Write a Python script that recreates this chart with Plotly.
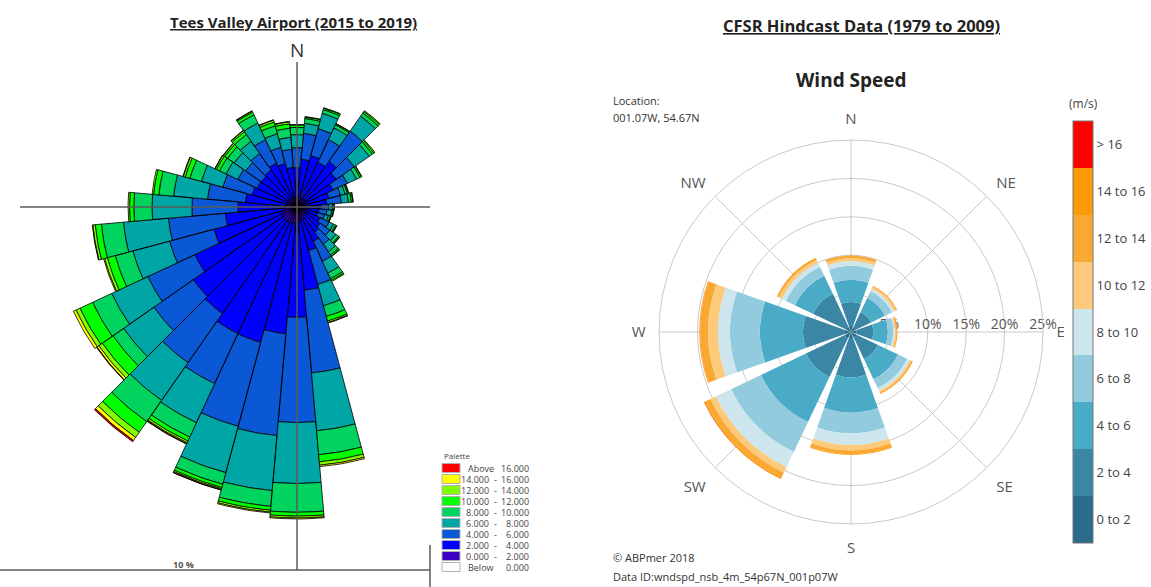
import numpy as np
import plotly.graph_objects as go

W, H = 1151, 587
FONT = "Open Sans"

# ---------------- Tees Valley Airport (2015 to 2019) ----------------
# 10-degree direction sectors; frequency (%) of each wind-speed class (m/s)
tv_dirs = list(range(0, 360, 10))
tv_0_2 = [0.22, 0.21, 0.23, 0.20, 0.22, 0.21, 0.20, 0.19, 0.20, 0.18, 0.19, 0.18,
          0.20, 0.21, 0.22, 0.25, 0.27, 0.30, 0.32, 0.34, 0.36, 0.35, 0.36, 0.33,
          0.31, 0.29, 0.27, 0.25, 0.23, 0.22, 0.21, 0.20, 0.21, 0.22, 0.21, 0.20]
tv_2_4 = [0.60, 0.79, 0.88, 0.83, 0.94, 0.79, 0.63, 0.50, 0.42, 0.31, 0.27, 0.27,
          0.33, 0.38, 0.42, 0.54, 0.67, 1.44, 1.98, 2.31, 2.56, 2.56, 2.35, 2.31,
          2.04, 1.50, 1.23, 0.98, 0.85, 0.75, 0.71, 0.71, 0.73, 0.79, 0.73, 0.63]
tv_4_6 = [0.42, 0.54, 0.58, 0.52, 0.77, 0.46, 0.33, 0.25, 0.31, 0.17, 0.17, 0.15,
          0.21, 0.25, 0.31, 0.46, 0.73, 1.73, 2.19, 2.13, 1.81, 1.15, 1.25, 1.00,
          1.08, 0.96, 1.19, 0.96, 0.79, 0.63, 0.44, 0.40, 0.42, 0.54, 0.35, 0.38]
tv_6_8 = [0.27, 0.21, 0.33, 0.27, 0.38, 0.38, 0.21, 0.10, 0.15, 0.08, 0.10, 0.08,
          0.10, 0.15, 0.19, 0.27, 0.46, 1.21, 1.27, 1.15, 1.00, 0.90, 0.96, 0.77,
          0.83, 0.79, 0.94, 0.83, 0.71, 0.46, 0.27, 0.29, 0.31, 0.38, 0.29, 0.25]
tv_8_10 = [0.15, 0.10, 0.08, 0.07, 0.08, 0.08, 0.08, 0.05, 0.06, 0.03, 0.03, 0.04,
           0.05, 0.07, 0.08, 0.13, 0.23, 0.50, 0.60, 0.33, 0.25, 0.33, 0.54, 0.27,
           0.44, 0.38, 0.46, 0.38, 0.31, 0.25, 0.15, 0.17, 0.17, 0.19, 0.17, 0.19]
tv_10_12 = [0.05, 0.03, 0.03, 0.02, 0.04, 0.04, 0.03, 0.02, 0.03, 0.01, 0.01, 0.01,
            0.02, 0.02, 0.03, 0.04, 0.10, 0.15, 0.08, 0.08, 0.07, 0.09, 0.27, 0.27,
            0.29, 0.17, 0.13, 0.09, 0.11, 0.10, 0.07, 0.07, 0.07, 0.06, 0.08, 0.09]
tv_12_14 = [0.01, 0.01, 0.01, 0.01, 0.02, 0.02, 0.01, 0.01, 0.01, 0.00, 0.00, 0.01,
            0.01, 0.01, 0.01, 0.02, 0.03, 0.07, 0.04, 0.04, 0.03, 0.04, 0.13, 0.09,
            0.09, 0.06, 0.05, 0.03, 0.03, 0.04, 0.03, 0.03, 0.03, 0.02, 0.04, 0.04]
tv_14_16 = [0.00, 0.00, 0.00, 0.00, 0.00, 0.00, 0.00, 0.00, 0.00, 0.00, 0.00, 0.00,
            0.00, 0.00, 0.00, 0.00, 0.01, 0.03, 0.02, 0.02, 0.02, 0.02, 0.08, 0.05,
            0.06, 0.02, 0.01, 0.00, 0.00, 0.01, 0.01, 0.01, 0.01, 0.01, 0.01, 0.01]
tv_above_16 = [0.0] * 20 + [0.005, 0.01, 0.03, 0.01] + [0.0] * 12

tv_classes = [tv_0_2, tv_2_4, tv_4_6, tv_6_8, tv_8_10, tv_10_12, tv_12_14, tv_14_16, tv_above_16]
tv_colors = ["#3c00c4", "#0000ff", "#0a58d6", "#00a6a6", "#00d35e",
             "#00ff00", "#80ff00", "#ffff00", "#ff0000"]
tv_palette = [("Above", "16.000", "#ff0000"), ("14.000", "16.000", "#ffff00"),
              ("12.000", "14.000", "#80ff00"), ("10.000", "12.000", "#00ff00"),
              ("8.000", "10.000", "#00d35e"), ("6.000", "8.000", "#00a6a6"),
              ("4.000", "6.000", "#0a58d6"), ("2.000", "4.000", "#0000ff"),
              ("0.000", "2.000", "#3c00c4"), ("Below", "0.000", "#ffffff")]
tv_scale_label = "10 %"

# ---------------- CFSR Hindcast Data (1979 to 2009) ----------------
cf_dirs = [0, 45, 90, 135, 180, 225, 270, 315]
cf_dir_labels = ["N", "NE", "E", "SE", "S", "SW", "W", "NW"]
cf_0_2 = [0.8, 0.7, 0.7, 0.8, 0.9, 0.9, 0.9, 0.8]
cf_2_4 = [3.1, 2.2, 2.2, 3.1, 5.0, 5.6, 5.35, 4.7]
cf_4_6 = [2.9, 2.0, 1.9, 2.9, 4.6, 6.5, 5.6, 2.6]
cf_6_8 = [1.8, 1.0, 0.7, 1.3, 2.7, 4.3, 3.9, 1.3]
cf_8_10 = [0.6, 0.35, 0.2, 0.4, 1.5, 2.2, 1.55, 0.6]
cf_10_12 = [0.4, 0.25, 0.2, 0.2, 0.7, 0.8, 1.3, 0.4]
cf_12_14 = [0.3, 0.15, 0.15, 0.2, 0.5, 0.7, 1.05, 0.3]
cf_14_16 = [0.05, 0.02, 0.02, 0.03, 0.1, 0.2, 0.1, 0.02]
cf_above_16 = [0.0, 0.0, 0.0, 0.0, 0.0, 0.02, 0.01, 0.0]

cf_classes = [cf_0_2, cf_2_4, cf_4_6, cf_6_8, cf_8_10, cf_10_12, cf_12_14, cf_14_16, cf_above_16]
cf_class_labels = ["0 to 2", "2 to 4", "4 to 6", "6 to 8", "8 to 10",
                   "10 to 12", "12 to 14", "14 to 16", "> 16"]
cf_colors = ["#2b6b8c", "#3a87a5", "#4aabc7", "#93cbde", "#cde6ee",
             "#fdca7b", "#f9a832", "#fb9c06", "#fe0000"]
cf_rings = [5, 10, 15, 20, 25]

fig = go.Figure()

# ---- left rose: stacked 10-degree wedges on an equal-scale cartesian frame
PX_PER_PCT = 48.0
CX, CY = 297, 207          # rose centre (px)
LEFT_W = 440               # width of the left panel (px)
x_rng = [-CX / PX_PER_PCT, (LEFT_W - CX) / PX_PER_PCT]
y_rng = [-(H - CY) / PX_PER_PCT, CY / PX_PER_PCT]

cum = np.zeros(len(tv_dirs))
for vals, col in zip(tv_classes, tv_colors):
    v = np.asarray(vals, dtype=float)
    r0, r1 = cum.copy(), cum + v
    cum = r1
    xs, ys = [], []
    for d, a0, a1 in zip(tv_dirs, r0, r1):
        if a1 - a0 <= 0:
            continue
        ang = np.radians(np.linspace(d - 5, d + 5, 12))
        px = np.concatenate([a1 * np.sin(ang), a0 * np.sin(ang[::-1]), [a1 * np.sin(ang[0])]])
        py = np.concatenate([a1 * np.cos(ang), a0 * np.cos(ang[::-1]), [a1 * np.cos(ang[0])]])
        xs += list(px) + [None]
        ys += list(py) + [None]
    fig.add_trace(go.Scatter(x=xs, y=ys, mode="lines", fill="toself", fillcolor=col,
                             line=dict(color="#000000", width=0.8), hoverinfo="skip",
                             showlegend=False, xaxis="x", yaxis="y"))

# ---- right rose: stacked bar-polar, colour bar keyed to speed class
for k, (vals, lab) in enumerate(zip(cf_classes, cf_class_labels)):
    fig.add_trace(go.Barpolar(
        r=vals, theta=cf_dirs, width=[39] * len(cf_dirs), name=lab,
        marker=dict(color=[k + 0.5] * len(cf_dirs), coloraxis="coloraxis",
                    line=dict(width=0)),
        hoverinfo="skip", showlegend=False, subplot="polar"))

nc = len(cf_colors)
cscale = []
for k, c in enumerate(cf_colors):
    cscale += [[k / nc, c], [(k + 1) / nc, c]]

# polar placement: centre (851, 332), 25 % ring at 192 px
PCX, PCY, PR = 851, 332, 192
polar_dom_x = [(PCX - PR) / W, (PCX + PR) / W]
polar_dom_y = [1 - (PCY + PR) / H, 1 - (PCY - PR) / H]

grid = "#c9c9c9"
fig.update_layout(
    width=W, height=H, margin=dict(l=0, r=0, t=0, b=0),
    paper_bgcolor="white", plot_bgcolor="white", showlegend=False,
    font=dict(family=FONT, color="#444"),
    xaxis=dict(domain=[0, LEFT_W / W], range=x_rng, visible=False, fixedrange=True),
    yaxis=dict(domain=[0, 1], range=y_rng, visible=False, fixedrange=True),
    polar=dict(
        domain=dict(x=polar_dom_x, y=polar_dom_y),
        bgcolor="white",
        barmode="stack",
        angularaxis=dict(direction="clockwise", rotation=90, tickmode="array",
                         tickvals=cf_dirs, ticktext=cf_dir_labels,
                         tickfont=dict(size=15, color="#555", family=FONT),
                         showline=True, linecolor=grid, linewidth=1,
                         gridcolor=grid, gridwidth=1,
                         ticks="outside", ticklen=10, tickcolor="rgba(0,0,0,0)"),
        radialaxis=dict(range=[0, 25], tickmode="array", tickvals=cf_rings,
                        ticktext=[f"{t}%" for t in cf_rings], angle=0,
                        side="counterclockwise", showline=False, ticks="",
                        gridcolor=grid, gridwidth=1, layer="below traces",
                        tickfont=dict(size=14, color="#555", family=FONT)),
    ),
    coloraxis=dict(
        colorscale=cscale, cmin=0, cmax=nc,
        colorbar=dict(x=1073 / W, xanchor="left", xref="paper", xpad=0, ypad=0,
                      y=1 - 332 / H, yanchor="middle", len=422, lenmode="pixels",
                      thickness=20, thicknessmode="pixels",
                      tickmode="array", tickvals=[k + 0.5 for k in range(nc)],
                      ticktext=cf_class_labels, ticks="",
                      tickfont=dict(size=13, color="#444", family=FONT),
                      outlinecolor="#777", outlinewidth=1),
    ),
)

# ---- left rose frame lines (axis units)
LINE = dict(color="#5a5a5a", width=1.5)
def u(px):  # pixel offset to axis units
    return px / PX_PER_PCT

shapes = [
    dict(type="line", xref="x", yref="y", x0=0, x1=0, y0=u(CY - 62), y1=-u(570 - CY), line=LINE, layer="above"),
    dict(type="line", xref="x", yref="y", x0=-u(CX - 20), x1=u(430 - CX), y0=0, y1=0, line=LINE, layer="above"),
    dict(type="line", xref="x", yref="y", x0=x_rng[0], x1=u(430 - CX), y0=-u(570 - CY), y1=-u(570 - CY), line=LINE, layer="above"),
    dict(type="line", xref="x", yref="y", x0=u(430 - CX), x1=u(430 - CX), y0=-u(545 - CY), y1=y_rng[0], line=LINE, layer="above"),
]

annotations = []
def ann(text, px, py, size, xanchor="center", color="#444", bold=False, under=False, family=FONT):
    f = dict(size=size, color=color, family=family)
    if bold:
        f["weight"] = "bold"
    if under:
        f["lineposition"] = "under"
    annotations.append(dict(text=text, x=px / W, y=1 - py / H, xref="paper", yref="paper",
                            xanchor=xanchor, yanchor="middle", showarrow=False, font=f))

ann("Tees Valley Airport (2015 to 2019)", 293, 22, 15, color="#222", bold=True, under=True)
ann("CFSR Hindcast Data (1979 to 2009)", 861, 25, 16.5, color="#222", bold=True, under=True)
ann("N", 297, 50, 19, color="#333")
ann(tv_scale_label, 183, 564, 9, color="#555", bold=True)
ann("Wind Speed", 851, 80, 19, color="#222", bold=True)
ann("Location:", 611, 100, 11, xanchor="left", color="#333")
ann("001.07W, 54.67N", 611, 118, 11, xanchor="left", color="#333")
ann("\u00a9 ABPmer 2018", 611, 557, 11, xanchor="left", color="#333")
ann("Data ID:wndspd_nsb_4m_54p67N_001p07W", 611, 576, 11, xanchor="left", color="#333")
ann("(m/s)", 1083, 103, 12, color="#444")

# ---- left palette key
ann("Palette", 442, 455, 8, xanchor="left", color="#444")
for i, (lo, hi, col) in enumerate(tv_palette):
    cy = 468 + 11 * i
    shapes.append(dict(type="rect", xref="paper", yref="paper",
                       x0=442 / W, x1=460 / W, y0=1 - (cy + 4.5) / H, y1=1 - (cy - 4.5) / H,
                       fillcolor=col, line=dict(color="#b0b0b0", width=1)))
    if lo in ("Above", "Below"):
        ann(lo, 466, cy, 9, xanchor="left", color="#444")
    else:
        ann(lo, 491, cy, 9, xanchor="right", color="#444")
        ann("-", 495, cy, 9, color="#444")
    ann(hi, 531, cy, 9, xanchor="right", color="#444")

fig.update_layout(shapes=shapes, annotations=annotations)
fig.write_html("out.html")
